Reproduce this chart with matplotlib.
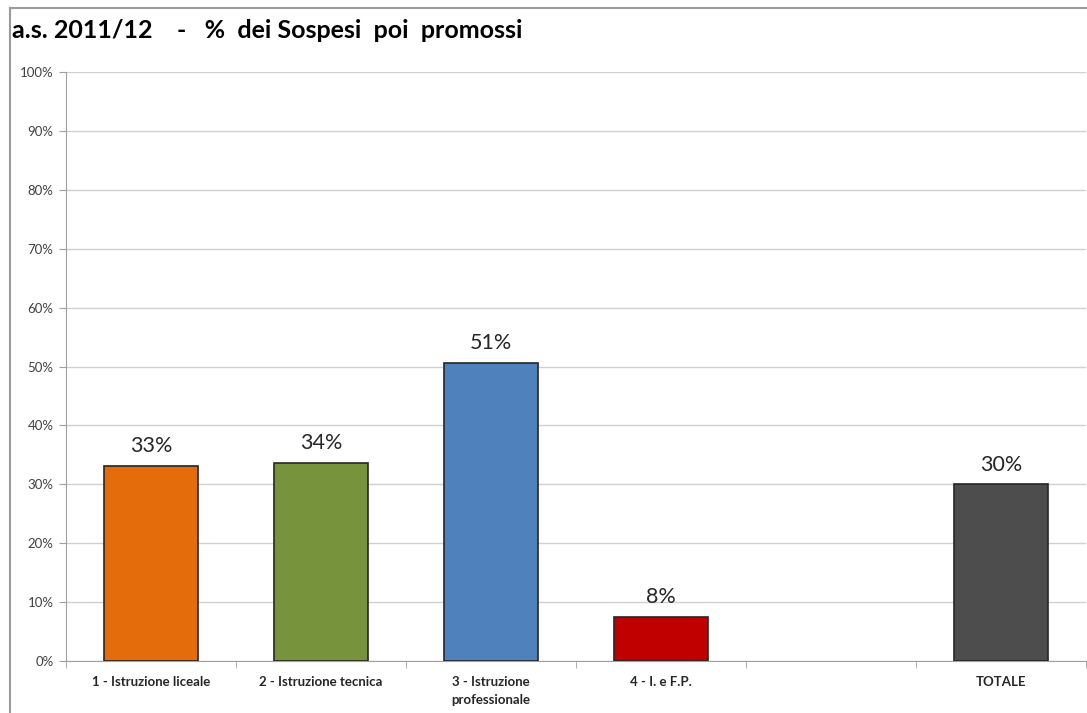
import matplotlib
matplotlib.use("Agg")
import matplotlib.pyplot as plt
from matplotlib.lines import Line2D

categories = ["1 - Istruzione liceale", "2 - Istruzione tecnica",
              "3 - Istruzione\nprofessionale", "4 - I. e F.P.", "", "TOTALE"]
values = [33.1, 33.6, 50.6, 7.5, None, 30.0]
labels = ["33%", "34%", "51%", "8%", "", "30%"]
colors = ["#E46C0A", "#77933C", "#4F81BD", "#C00000", "white", "#4D4D4D"]
yticks = [0, 10, 20, 30, 40, 50, 60, 70, 80, 90, 100]

plt.rcParams['font.family'] = ['Lato', 'DejaVu Sans']

fig = plt.figure(figsize=(10.87, 7.13), dpi=100)
ax = fig.add_axes([66/1087, 1-661/713, 1020/1087, (661-72)/713])

x = list(range(len(categories)))
for i, v in enumerate(values):
    if v is None:
        continue
    ax.bar(i, v, width=0.55, color=colors[i], edgecolor="#262626", linewidth=1.2, zorder=3)
    ax.annotate(labels[i], (i, v), xytext=(0, 7), textcoords="offset points",
                ha="center", va="bottom", fontsize=15.5, color="#262626")

ax.set_xlim(-0.5, len(categories) - 0.5)
ax.set_ylim(0, 100)
ax.set_yticks(yticks)
ax.set_yticklabels([f"{t}%" for t in yticks], fontsize=9.5, color="#404040")
ax.set_xticks(x)
ax.set_xticklabels(categories, fontsize=9.5, fontweight="bold", color="#262626",
                   linespacing=1.6)
ax.tick_params(axis="x", length=0, pad=11)
ax.tick_params(axis="y", length=5, color="#a0a0a0", pad=4)
ax.set_xticks([i - 0.5 for i in range(len(categories) + 1)], minor=True)
ax.tick_params(axis="x", which="minor", length=5, color="#a0a0a0")
ax.grid(axis="y", color="#d0d0d0", linewidth=1, zorder=0)
for s in ["top", "right"]:
    ax.spines[s].set_visible(False)
ax.spines["left"].set_color("#a0a0a0")
ax.spines["bottom"].set_color("#a0a0a0")

fig.text(12/1087, 1-31/713, "a.s. 2011/12    -   %  dei Sospesi  poi  promossi",
         fontsize=18, fontweight="bold", ha="left", va="center", color="#000000")

fig.add_artist(Line2D([10/1087, 10/1087], [0, 1-8/713], transform=fig.transFigure,
                      color="#9a9a9a", linewidth=1.5))
fig.add_artist(Line2D([10/1087, 1], [1-8/713, 1-8/713], transform=fig.transFigure,
                      color="#9a9a9a", linewidth=1.5))

fig.savefig("out.png", dpi=100)
